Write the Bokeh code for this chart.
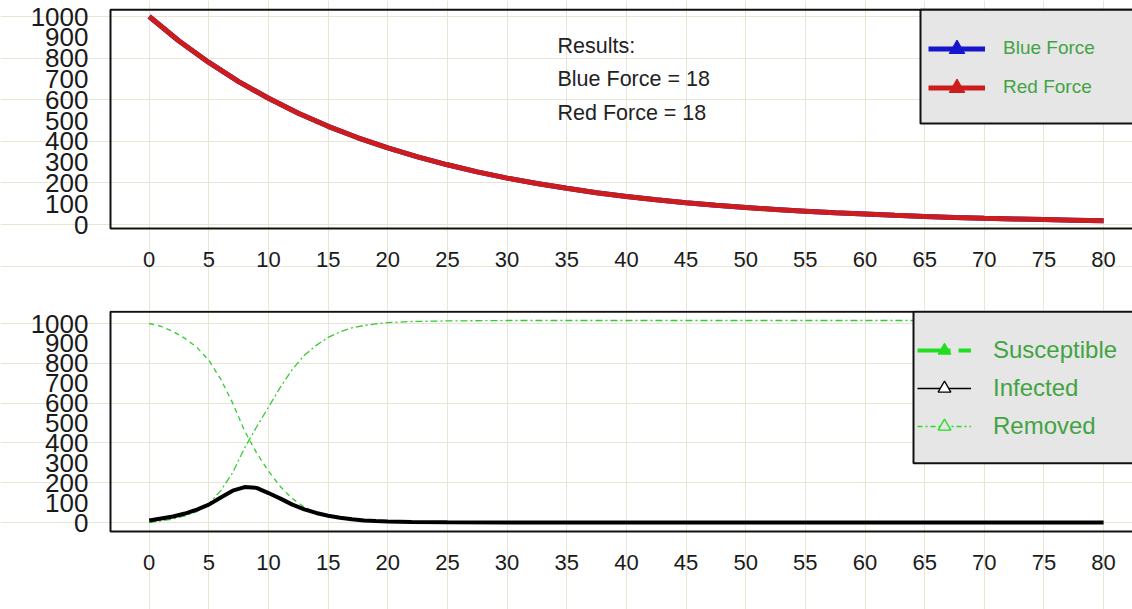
from bokeh.core.properties import value
from bokeh.embed import file_html
from bokeh.layouts import column
from bokeh.models import (BoxAnnotation, CDSView, ColumnDataSource, FixedTicker, Grid,
                          IndexFilter, LinearAxis, Legend, LegendItem, Range1d)
from bokeh.plotting import figure
from bokeh.resources import INLINE

# ---- battle: remaining strength of each force over time ----
force_time = [0, 2.5, 5, 7.5, 10, 12.5, 15, 17.5, 20, 22.5, 25, 27.5, 30, 32.5, 35,
              37.5, 40, 42.5, 45, 47.5, 50, 52.5, 55, 57.5, 60, 62.5, 65, 67.5, 70,
              72.5, 75, 77.5, 80]
blue_force = [1000, 882, 779, 687, 607, 535, 472, 417, 368, 325, 287, 253, 223, 197, 174,
              153, 135, 119, 105, 93, 82, 72, 64, 56, 50, 44, 39, 34, 30, 27, 24, 21, 18]
red_force = [1000, 882, 779, 687, 607, 535, 472, 417, 368, 325, 287, 253, 223, 197, 174,
             153, 135, 119, 105, 93, 82, 72, 64, 56, 50, 44, 39, 34, 30, 27, 24, 21, 18]

# ---- epidemic: susceptible / infected / removed ----
sir_time = [0, 1, 2, 3, 4, 5, 6, 7, 8, 9, 10, 11, 12, 13, 14, 15, 16, 17, 18, 19, 20,
            22, 25, 30, 35, 40, 45, 50, 55, 60, 65, 70, 75, 80]
susceptible = [1000, 985, 960, 925, 880, 815, 720, 600, 460, 350, 258, 180, 120, 78, 50,
               32, 21, 14, 10, 7, 5, 4, 3, 2, 2, 2, 2, 2, 2, 2, 2, 2, 2, 2]
infected = [10, 20, 30, 45, 65, 90, 126, 160, 178, 174, 148, 120, 90, 66, 48, 34, 24, 16,
            10, 7, 5, 2, 1, 0, 0, 0, 0, 0, 0, 0, 0, 0, 0, 0]
removed = [0, 8, 18, 33, 55, 95, 160, 250, 375, 480, 580, 680, 770, 840, 890, 930, 958,
           978, 990, 998, 1004, 1010, 1013, 1015, 1015, 1015, 1015, 1015, 1015, 1015, 1015,
           1015, 1015, 1015]

x_ticks = [0, 5, 10, 15, 20, 25, 30, 35, 40, 45, 50, 55, 60, 65, 70, 75, 80]
y_ticks = [0, 100, 200, 300, 400, 500, 600, 700, 800, 900, 1000]
top_grid_ticks = [-200, 0, 200, 400, 600, 800, 1000]
bottom_grid_ticks = [0, 200, 400, 600, 800, 1000]

# ---- page geometry ----
W = 1132
X0_PX = 148.7        # screen x of t = 0
PX_PER_T = 11.93     # screen px per time unit
FRAME_LEFT_PX = 110
GRID_COLOR = "#e8e5d5"
TICK_FONT = "Liberation Sans"
LABEL_GREEN = "#43a343"
BLUE = "#1616cc"
RED = "#cc1c1c"
GREEN = "#33cc33"
KEY_GREEN = "#22dd22"


def t_at(px):
    return (px - X0_PX) / PX_PER_T


def make_panel(height, zero_px, px_per_unit, frame_top_px, frame_bottom_px, grid_ticks):
    def v_at(px):
        return (zero_px - px) / px_per_unit

    p = figure(width=W, height=height, output_backend="svg", toolbar_location=None,
               x_range=Range1d(t_at(0), t_at(W)), y_range=Range1d(v_at(height), v_at(0)),
               x_axis_location=None, y_axis_location=None, min_border=0,
               outline_line_color=None, background_fill_color="white",
               border_fill_color="white")
    for g in p.grid:
        g.visible = False
    p.add_layout(Grid(dimension=0, ticker=FixedTicker(ticks=x_ticks),
                      grid_line_color=GRID_COLOR, grid_line_width=1))
    p.add_layout(Grid(dimension=1, ticker=FixedTicker(ticks=grid_ticks),
                      grid_line_color=GRID_COLOR, grid_line_width=1))

    yaxis = LinearAxis(fixed_location=t_at(FRAME_LEFT_PX), ticker=FixedTicker(ticks=y_ticks),
                       axis_line_color=None, major_tick_line_color=None,
                       minor_tick_line_color=None, major_label_standoff=16,
                       major_label_text_font=TICK_FONT, major_label_text_font_size="26px",
                       major_label_text_color="#1a1a1a")
    p.add_layout(yaxis, "left")
    xaxis = LinearAxis(fixed_location=v_at(frame_bottom_px), ticker=FixedTicker(ticks=x_ticks),
                       axis_line_color=None, major_tick_line_color=None,
                       minor_tick_line_color=None, major_label_standoff=17,
                       major_label_text_font=TICK_FONT, major_label_text_font_size="22px",
                       major_label_text_color="#1a1a1a")
    p.add_layout(xaxis, "below")

    p.add_layout(BoxAnnotation(left=t_at(FRAME_LEFT_PX), right=t_at(W + 40),
                               top=v_at(frame_top_px), bottom=v_at(frame_bottom_px),
                               fill_alpha=0, line_color="#111111", line_alpha=1, line_width=2))
    return p, v_at


def key_only():
    # a single point: enough for the legend swatch, draws nothing in the plot area
    return CDSView(filter=IndexFilter(indices=[0]))


# ---------------- upper panel: force strengths ----------------
top, top_v = make_panel(310, 224, 0.208, 9.3, 228, top_grid_ticks)
force_src = ColumnDataSource(dict(t=force_time, blue=blue_force, red=red_force))

blue_line = top.line("t", "blue", source=force_src, line_color=BLUE, line_width=5)
red_line = top.line("t", "red", source=force_src, line_color=RED, line_width=5)
blue_mark = top.scatter("t", "blue", source=force_src, view=key_only(), marker="triangle",
                        size=0, fill_color=BLUE, line_color=BLUE)
red_mark = top.scatter("t", "red", source=force_src, view=key_only(), marker="triangle",
                       size=0, fill_color=RED, line_color=RED)

result_lines = ["Results:", f"Blue Force = {blue_force[-1]}", f"Red Force = {red_force[-1]}"]
result_src = ColumnDataSource(dict(
    x=[t_at(557)] * 3,
    y=[top_v(45), top_v(78), top_v(112)],
    text=result_lines))
top.text("x", "y", text="text", source=result_src, text_font=value(TICK_FONT),
         text_font_size="21.5px", text_baseline="middle", text_align="left",
         text_color="#222222")

top.add_layout(BoxAnnotation(left=t_at(920), right=t_at(W + 40), top=top_v(9.3),
                             bottom=top_v(123), fill_color="#e6e6e6", fill_alpha=1,
                             line_color="#111111", line_alpha=1, line_width=2))
top_legend = Legend(
    items=[LegendItem(label="Blue Force", renderers=[blue_line, blue_mark]),
           LegendItem(label="Red Force", renderers=[red_line, red_mark])],
    location=(928, 203.5), orientation="vertical", padding=0, margin=0, spacing=0,
    glyph_width=57, glyph_height=39, label_height=22, label_standoff=18,
    background_fill_alpha=0, border_line_color=None,
    label_text_font=TICK_FONT, label_text_font_size="19px", label_text_color=LABEL_GREEN)
top.add_layout(top_legend)

# ---------------- lower panel: epidemic ----------------
bot, bot_v = make_panel(299, 212, 0.199, 1.2, 221, bottom_grid_ticks)
sir_src = ColumnDataSource(dict(t=sir_time, s=susceptible, i=infected, r=removed))

bot.line("t", "s", source=sir_src, line_color=GREEN, line_width=1.3, line_dash="5 4")
bot.line("t", "r", source=sir_src, line_color=GREEN, line_width=1.3, line_dash="7 3 2 3")
bot.line("t", "i", source=sir_src, line_color="#000000", line_width=4)

# legend swatches
s_key_line = bot.line("t", "s", source=sir_src, view=key_only(), line_color=KEY_GREEN,
                      line_width=4, line_dash="33 8 13 8")
s_key_mark = bot.scatter("t", "s", source=sir_src, view=key_only(), marker="triangle",
                         size=0, fill_color=KEY_GREEN, line_color=KEY_GREEN)
i_key_line = bot.line("t", "i", source=sir_src, view=key_only(), line_color="#000000",
                      line_width=1.3)
i_key_mark = bot.scatter("t", "i", source=sir_src, view=key_only(), marker="triangle",
                         size=0, fill_color="white", line_color="#000000", line_width=1.3)
r_key_line = bot.line("t", "r", source=sir_src, view=key_only(), line_color=KEY_GREEN,
                      line_width=1.3, line_dash="5 3 2 3")
r_key_mark = bot.scatter("t", "r", source=sir_src, view=key_only(), marker="triangle",
                         size=0, fill_color="#e6e6e6", line_color=KEY_GREEN, line_width=1.3)

bot.add_layout(BoxAnnotation(left=t_at(913), right=t_at(W + 40), top=bot_v(1.2),
                             bottom=bot_v(152.7), fill_color="#e6e6e6", fill_alpha=1,
                             line_color="#111111", line_alpha=1, line_width=2))
bot_legend = Legend(
    items=[LegendItem(label="Susceptible", renderers=[s_key_line, s_key_mark]),
           LegendItem(label="Infected", renderers=[i_key_line, i_key_mark]),
           LegendItem(label="Removed", renderers=[r_key_line, r_key_mark])],
    location=(917, 167), orientation="vertical", padding=0, margin=0, spacing=6,
    glyph_width=54, glyph_height=32, label_height=28, label_standoff=22,
    background_fill_alpha=0, border_line_color=None,
    label_text_font=TICK_FONT, label_text_font_size="24px", label_text_color=LABEL_GREEN)
bot.add_layout(bot_legend)

layout = column(top, bot, spacing=0)
open("out.html", "w").write(file_html(layout, INLINE))
